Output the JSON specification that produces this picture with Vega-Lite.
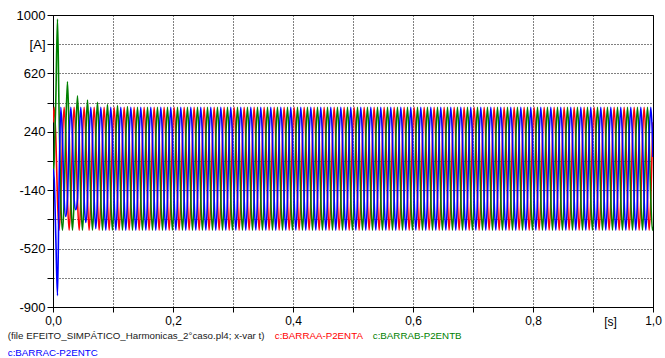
{
"$schema":"https://vega.github.io/schema/vega-lite/v6.json",
"width":600,"height":292,
"autosize":{"type":"none"},
"padding":{"left":53,"top":15,"right":12,"bottom":51},
"background":"white",
"config":{"view":{"stroke":"#000","strokeWidth":1},"font":"Liberation Sans"},
"data":{"values":[
{"t":0,"A":300,"B":-70,"C":0},
{"t":0.0019,"A":400,"B":50,"C":-60},
{"t":0.0047,"A":200,"B":450,"C":-450},
{"t":0.0075,"A":-200,"B":974,"C":-826},
{"t":0.0102,"A":-400,"B":350,"C":-100},
{"t":0.0130,"A":-200,"B":-200,"C":400},
{"t":0.0158,"A":200,"B":-400,"C":200},
{"t":0.0186,"A":400,"B":-200,"C":-200},
{"t":0.0213,"A":200,"B":250,"C":-311},
{"t":0.0241,"A":-200,"B":566,"C":-200},
{"t":0.0269,"A":-400,"B":230,"C":200},
{"t":0.0297,"A":-200,"B":-200,"C":400},
{"t":0.0325,"A":200,"B":-400,"C":200},
{"t":0.0352,"A":400,"B":-200,"C":-200},
{"t":0.0380,"A":200,"B":220,"C":-267},
{"t":0.0408,"A":-200,"B":474,"C":-200},
{"t":0.0436,"A":-400,"B":210,"C":200},
{"t":0.0463,"A":-200,"B":-200,"C":400},
{"t":0.0491,"A":200,"B":-400,"C":200},
{"t":0.0519,"A":400,"B":-200,"C":-200},
{"t":0.0547,"A":200,"B":210,"C":-350},
{"t":0.0575,"A":-200,"B":447,"C":-200},
{"t":0.0602,"A":-400,"B":200,"C":200},
{"t":0.0630,"A":-200,"B":-200,"C":400},
{"t":0.0658,"A":200,"B":-400,"C":200},
{"t":0.0686,"A":400,"B":-200,"C":-200},
{"t":0.0713,"A":200,"B":200,"C":-390},
{"t":0.0741,"A":-200,"B":432,"C":-200},
{"t":0.0769,"A":-400,"B":200,"C":200},
{"t":0.0797,"A":-200,"B":-200,"C":400},
{"t":0.0825,"A":200,"B":-400,"C":200},
{"t":0.0852,"A":400,"B":-200,"C":-200},
{"t":0.0880,"A":200,"B":200,"C":-400},
{"t":0.0908,"A":-200,"B":417,"C":-200},
{"t":0.0936,"A":-400,"B":200,"C":200},
{"t":0.0963,"A":-200,"B":-200,"C":400},
{"t":0.0991,"A":200,"B":-400,"C":200},
{"t":0.1019,"A":400,"B":-200,"C":-200},
{"t":0.1047,"A":200,"B":200,"C":-400},
{"t":0.1075,"A":-200,"B":410,"C":-200},
{"t":0.1102,"A":-400,"B":200,"C":200},
{"t":0.1130,"A":-200,"B":-200,"C":400},
{"t":0.1158,"A":200,"B":-400,"C":200},
{"t":0.1186,"A":400,"B":-200,"C":-200},
{"t":0.1213,"A":200,"B":200,"C":-400},
{"t":0.1241,"A":-200,"B":405,"C":-200},
{"t":0.1269,"A":-400,"B":200,"C":200},
{"t":0.1297,"A":-200,"B":-200,"C":400},
{"t":0.1325,"A":200,"B":-400,"C":200},
{"t":0.1352,"A":400,"B":-200,"C":-200},
{"t":0.1380,"A":200,"B":200,"C":-400},
{"t":0.1408,"A":-200,"B":400,"C":-200},
{"t":0.1436,"A":-400,"B":200,"C":200},
{"t":0.1463,"A":-200,"B":-200,"C":400},
{"t":0.1491,"A":200,"B":-400,"C":200},
{"t":0.1519,"A":400,"B":-200,"C":-200},
{"t":0.1547,"A":200,"B":200,"C":-400},
{"t":0.1575,"A":-200,"B":400,"C":-200},
{"t":0.1602,"A":-400,"B":200,"C":200},
{"t":0.1630,"A":-200,"B":-200,"C":400},
{"t":0.1658,"A":200,"B":-400,"C":200},
{"t":0.1686,"A":400,"B":-200,"C":-200},
{"t":0.1713,"A":200,"B":200,"C":-400},
{"t":0.1741,"A":-200,"B":400,"C":-200},
{"t":0.1769,"A":-400,"B":200,"C":200},
{"t":0.1797,"A":-200,"B":-200,"C":400},
{"t":0.1825,"A":200,"B":-400,"C":200},
{"t":0.1852,"A":400,"B":-200,"C":-200},
{"t":0.1880,"A":200,"B":200,"C":-400},
{"t":0.1908,"A":-200,"B":400,"C":-200},
{"t":0.1936,"A":-400,"B":200,"C":200},
{"t":0.1963,"A":-200,"B":-200,"C":400},
{"t":0.1991,"A":200,"B":-400,"C":200},
{"t":0.2019,"A":400,"B":-200,"C":-200},
{"t":0.2047,"A":200,"B":200,"C":-400},
{"t":0.2075,"A":-200,"B":400,"C":-200},
{"t":0.2102,"A":-400,"B":200,"C":200},
{"t":0.2130,"A":-200,"B":-200,"C":400},
{"t":0.2158,"A":200,"B":-400,"C":200},
{"t":0.2186,"A":400,"B":-200,"C":-200},
{"t":0.2213,"A":200,"B":200,"C":-400},
{"t":0.2241,"A":-200,"B":400,"C":-200},
{"t":0.2269,"A":-400,"B":200,"C":200},
{"t":0.2297,"A":-200,"B":-200,"C":400},
{"t":0.2325,"A":200,"B":-400,"C":200},
{"t":0.2352,"A":400,"B":-200,"C":-200},
{"t":0.2380,"A":200,"B":200,"C":-400},
{"t":0.2408,"A":-200,"B":400,"C":-200},
{"t":0.2436,"A":-400,"B":200,"C":200},
{"t":0.2463,"A":-200,"B":-200,"C":400},
{"t":0.2491,"A":200,"B":-400,"C":200},
{"t":0.2519,"A":400,"B":-200,"C":-200},
{"t":0.2547,"A":200,"B":200,"C":-400},
{"t":0.2575,"A":-200,"B":400,"C":-200},
{"t":0.2602,"A":-400,"B":200,"C":200},
{"t":0.2630,"A":-200,"B":-200,"C":400},
{"t":0.2658,"A":200,"B":-400,"C":200},
{"t":0.2686,"A":400,"B":-200,"C":-200},
{"t":0.2713,"A":200,"B":200,"C":-400},
{"t":0.2741,"A":-200,"B":400,"C":-200},
{"t":0.2769,"A":-400,"B":200,"C":200},
{"t":0.2797,"A":-200,"B":-200,"C":400},
{"t":0.2825,"A":200,"B":-400,"C":200},
{"t":0.2852,"A":400,"B":-200,"C":-200},
{"t":0.2880,"A":200,"B":200,"C":-400},
{"t":0.2908,"A":-200,"B":400,"C":-200},
{"t":0.2936,"A":-400,"B":200,"C":200},
{"t":0.2963,"A":-200,"B":-200,"C":400},
{"t":0.2991,"A":200,"B":-400,"C":200},
{"t":0.3019,"A":400,"B":-200,"C":-200},
{"t":0.3047,"A":200,"B":200,"C":-400},
{"t":0.3075,"A":-200,"B":400,"C":-200},
{"t":0.3102,"A":-400,"B":200,"C":200},
{"t":0.3130,"A":-200,"B":-200,"C":400},
{"t":0.3158,"A":200,"B":-400,"C":200},
{"t":0.3186,"A":400,"B":-200,"C":-200},
{"t":0.3213,"A":200,"B":200,"C":-400},
{"t":0.3241,"A":-200,"B":400,"C":-200},
{"t":0.3269,"A":-400,"B":200,"C":200},
{"t":0.3297,"A":-200,"B":-200,"C":400},
{"t":0.3325,"A":200,"B":-400,"C":200},
{"t":0.3352,"A":400,"B":-200,"C":-200},
{"t":0.3380,"A":200,"B":200,"C":-400},
{"t":0.3408,"A":-200,"B":400,"C":-200},
{"t":0.3436,"A":-400,"B":200,"C":200},
{"t":0.3463,"A":-200,"B":-200,"C":400},
{"t":0.3491,"A":200,"B":-400,"C":200},
{"t":0.3519,"A":400,"B":-200,"C":-200},
{"t":0.3547,"A":200,"B":200,"C":-400},
{"t":0.3575,"A":-200,"B":400,"C":-200},
{"t":0.3602,"A":-400,"B":200,"C":200},
{"t":0.3630,"A":-200,"B":-200,"C":400},
{"t":0.3658,"A":200,"B":-400,"C":200},
{"t":0.3686,"A":400,"B":-200,"C":-200},
{"t":0.3713,"A":200,"B":200,"C":-400},
{"t":0.3741,"A":-200,"B":400,"C":-200},
{"t":0.3769,"A":-400,"B":200,"C":200},
{"t":0.3797,"A":-200,"B":-200,"C":400},
{"t":0.3825,"A":200,"B":-400,"C":200},
{"t":0.3852,"A":400,"B":-200,"C":-200},
{"t":0.3880,"A":200,"B":200,"C":-400},
{"t":0.3908,"A":-200,"B":400,"C":-200},
{"t":0.3936,"A":-400,"B":200,"C":200},
{"t":0.3963,"A":-200,"B":-200,"C":400},
{"t":0.3991,"A":200,"B":-400,"C":200},
{"t":0.4019,"A":400,"B":-200,"C":-200},
{"t":0.4047,"A":200,"B":200,"C":-400},
{"t":0.4075,"A":-200,"B":400,"C":-200},
{"t":0.4102,"A":-400,"B":200,"C":200},
{"t":0.4130,"A":-200,"B":-200,"C":400},
{"t":0.4158,"A":200,"B":-400,"C":200},
{"t":0.4186,"A":400,"B":-200,"C":-200},
{"t":0.4213,"A":200,"B":200,"C":-400},
{"t":0.4241,"A":-200,"B":400,"C":-200},
{"t":0.4269,"A":-400,"B":200,"C":200},
{"t":0.4297,"A":-200,"B":-200,"C":400},
{"t":0.4325,"A":200,"B":-400,"C":200},
{"t":0.4352,"A":400,"B":-200,"C":-200},
{"t":0.4380,"A":200,"B":200,"C":-400},
{"t":0.4408,"A":-200,"B":400,"C":-200},
{"t":0.4436,"A":-400,"B":200,"C":200},
{"t":0.4463,"A":-200,"B":-200,"C":400},
{"t":0.4491,"A":200,"B":-400,"C":200},
{"t":0.4519,"A":400,"B":-200,"C":-200},
{"t":0.4547,"A":200,"B":200,"C":-400},
{"t":0.4575,"A":-200,"B":400,"C":-200},
{"t":0.4602,"A":-400,"B":200,"C":200},
{"t":0.4630,"A":-200,"B":-200,"C":400},
{"t":0.4658,"A":200,"B":-400,"C":200},
{"t":0.4686,"A":400,"B":-200,"C":-200},
{"t":0.4713,"A":200,"B":200,"C":-400},
{"t":0.4741,"A":-200,"B":400,"C":-200},
{"t":0.4769,"A":-400,"B":200,"C":200},
{"t":0.4797,"A":-200,"B":-200,"C":400},
{"t":0.4825,"A":200,"B":-400,"C":200},
{"t":0.4852,"A":400,"B":-200,"C":-200},
{"t":0.4880,"A":200,"B":200,"C":-400},
{"t":0.4908,"A":-200,"B":400,"C":-200},
{"t":0.4936,"A":-400,"B":200,"C":200},
{"t":0.4963,"A":-200,"B":-200,"C":400},
{"t":0.4991,"A":200,"B":-400,"C":200},
{"t":0.5019,"A":400,"B":-200,"C":-200},
{"t":0.5047,"A":200,"B":200,"C":-400},
{"t":0.5075,"A":-200,"B":400,"C":-200},
{"t":0.5102,"A":-400,"B":200,"C":200},
{"t":0.5130,"A":-200,"B":-200,"C":400},
{"t":0.5158,"A":200,"B":-400,"C":200},
{"t":0.5186,"A":400,"B":-200,"C":-200},
{"t":0.5213,"A":200,"B":200,"C":-400},
{"t":0.5241,"A":-200,"B":400,"C":-200},
{"t":0.5269,"A":-400,"B":200,"C":200},
{"t":0.5297,"A":-200,"B":-200,"C":400},
{"t":0.5325,"A":200,"B":-400,"C":200},
{"t":0.5352,"A":400,"B":-200,"C":-200},
{"t":0.5380,"A":200,"B":200,"C":-400},
{"t":0.5408,"A":-200,"B":400,"C":-200},
{"t":0.5436,"A":-400,"B":200,"C":200},
{"t":0.5463,"A":-200,"B":-200,"C":400},
{"t":0.5491,"A":200,"B":-400,"C":200},
{"t":0.5519,"A":400,"B":-200,"C":-200},
{"t":0.5547,"A":200,"B":200,"C":-400},
{"t":0.5575,"A":-200,"B":400,"C":-200},
{"t":0.5602,"A":-400,"B":200,"C":200},
{"t":0.5630,"A":-200,"B":-200,"C":400},
{"t":0.5658,"A":200,"B":-400,"C":200},
{"t":0.5686,"A":400,"B":-200,"C":-200},
{"t":0.5713,"A":200,"B":200,"C":-400},
{"t":0.5741,"A":-200,"B":400,"C":-200},
{"t":0.5769,"A":-400,"B":200,"C":200},
{"t":0.5797,"A":-200,"B":-200,"C":400},
{"t":0.5825,"A":200,"B":-400,"C":200},
{"t":0.5852,"A":400,"B":-200,"C":-200},
{"t":0.5880,"A":200,"B":200,"C":-400},
{"t":0.5908,"A":-200,"B":400,"C":-200},
{"t":0.5936,"A":-400,"B":200,"C":200},
{"t":0.5963,"A":-200,"B":-200,"C":400},
{"t":0.5991,"A":200,"B":-400,"C":200},
{"t":0.6019,"A":400,"B":-200,"C":-200},
{"t":0.6047,"A":200,"B":200,"C":-400},
{"t":0.6075,"A":-200,"B":400,"C":-200},
{"t":0.6102,"A":-400,"B":200,"C":200},
{"t":0.6130,"A":-200,"B":-200,"C":400},
{"t":0.6158,"A":200,"B":-400,"C":200},
{"t":0.6186,"A":400,"B":-200,"C":-200},
{"t":0.6213,"A":200,"B":200,"C":-400},
{"t":0.6241,"A":-200,"B":400,"C":-200},
{"t":0.6269,"A":-400,"B":200,"C":200},
{"t":0.6297,"A":-200,"B":-200,"C":400},
{"t":0.6325,"A":200,"B":-400,"C":200},
{"t":0.6352,"A":400,"B":-200,"C":-200},
{"t":0.6380,"A":200,"B":200,"C":-400},
{"t":0.6408,"A":-200,"B":400,"C":-200},
{"t":0.6436,"A":-400,"B":200,"C":200},
{"t":0.6463,"A":-200,"B":-200,"C":400},
{"t":0.6491,"A":200,"B":-400,"C":200},
{"t":0.6519,"A":400,"B":-200,"C":-200},
{"t":0.6547,"A":200,"B":200,"C":-400},
{"t":0.6575,"A":-200,"B":400,"C":-200},
{"t":0.6602,"A":-400,"B":200,"C":200},
{"t":0.6630,"A":-200,"B":-200,"C":400},
{"t":0.6658,"A":200,"B":-400,"C":200},
{"t":0.6686,"A":400,"B":-200,"C":-200},
{"t":0.6713,"A":200,"B":200,"C":-400},
{"t":0.6741,"A":-200,"B":400,"C":-200},
{"t":0.6769,"A":-400,"B":200,"C":200},
{"t":0.6797,"A":-200,"B":-200,"C":400},
{"t":0.6825,"A":200,"B":-400,"C":200},
{"t":0.6852,"A":400,"B":-200,"C":-200},
{"t":0.6880,"A":200,"B":200,"C":-400},
{"t":0.6908,"A":-200,"B":400,"C":-200},
{"t":0.6936,"A":-400,"B":200,"C":200},
{"t":0.6963,"A":-200,"B":-200,"C":400},
{"t":0.6991,"A":200,"B":-400,"C":200},
{"t":0.7019,"A":400,"B":-200,"C":-200},
{"t":0.7047,"A":200,"B":200,"C":-400},
{"t":0.7075,"A":-200,"B":400,"C":-200},
{"t":0.7102,"A":-400,"B":200,"C":200},
{"t":0.7130,"A":-200,"B":-200,"C":400},
{"t":0.7158,"A":200,"B":-400,"C":200},
{"t":0.7186,"A":400,"B":-200,"C":-200},
{"t":0.7213,"A":200,"B":200,"C":-400},
{"t":0.7241,"A":-200,"B":400,"C":-200},
{"t":0.7269,"A":-400,"B":200,"C":200},
{"t":0.7297,"A":-200,"B":-200,"C":400},
{"t":0.7325,"A":200,"B":-400,"C":200},
{"t":0.7352,"A":400,"B":-200,"C":-200},
{"t":0.7380,"A":200,"B":200,"C":-400},
{"t":0.7408,"A":-200,"B":400,"C":-200},
{"t":0.7436,"A":-400,"B":200,"C":200},
{"t":0.7463,"A":-200,"B":-200,"C":400},
{"t":0.7491,"A":200,"B":-400,"C":200},
{"t":0.7519,"A":400,"B":-200,"C":-200},
{"t":0.7547,"A":200,"B":200,"C":-400},
{"t":0.7575,"A":-200,"B":400,"C":-200},
{"t":0.7602,"A":-400,"B":200,"C":200},
{"t":0.7630,"A":-200,"B":-200,"C":400},
{"t":0.7658,"A":200,"B":-400,"C":200},
{"t":0.7686,"A":400,"B":-200,"C":-200},
{"t":0.7713,"A":200,"B":200,"C":-400},
{"t":0.7741,"A":-200,"B":400,"C":-200},
{"t":0.7769,"A":-400,"B":200,"C":200},
{"t":0.7797,"A":-200,"B":-200,"C":400},
{"t":0.7825,"A":200,"B":-400,"C":200},
{"t":0.7852,"A":400,"B":-200,"C":-200},
{"t":0.7880,"A":200,"B":200,"C":-400},
{"t":0.7908,"A":-200,"B":400,"C":-200},
{"t":0.7936,"A":-400,"B":200,"C":200},
{"t":0.7963,"A":-200,"B":-200,"C":400},
{"t":0.7991,"A":200,"B":-400,"C":200},
{"t":0.8019,"A":400,"B":-200,"C":-200},
{"t":0.8047,"A":200,"B":200,"C":-400},
{"t":0.8075,"A":-200,"B":400,"C":-200},
{"t":0.8102,"A":-400,"B":200,"C":200},
{"t":0.8130,"A":-200,"B":-200,"C":400},
{"t":0.8158,"A":200,"B":-400,"C":200},
{"t":0.8186,"A":400,"B":-200,"C":-200},
{"t":0.8213,"A":200,"B":200,"C":-400},
{"t":0.8241,"A":-200,"B":400,"C":-200},
{"t":0.8269,"A":-400,"B":200,"C":200},
{"t":0.8297,"A":-200,"B":-200,"C":400},
{"t":0.8325,"A":200,"B":-400,"C":200},
{"t":0.8352,"A":400,"B":-200,"C":-200},
{"t":0.8380,"A":200,"B":200,"C":-400},
{"t":0.8408,"A":-200,"B":400,"C":-200},
{"t":0.8436,"A":-400,"B":200,"C":200},
{"t":0.8463,"A":-200,"B":-200,"C":400},
{"t":0.8491,"A":200,"B":-400,"C":200},
{"t":0.8519,"A":400,"B":-200,"C":-200},
{"t":0.8547,"A":200,"B":200,"C":-400},
{"t":0.8575,"A":-200,"B":400,"C":-200},
{"t":0.8602,"A":-400,"B":200,"C":200},
{"t":0.8630,"A":-200,"B":-200,"C":400},
{"t":0.8658,"A":200,"B":-400,"C":200},
{"t":0.8686,"A":400,"B":-200,"C":-200},
{"t":0.8713,"A":200,"B":200,"C":-400},
{"t":0.8741,"A":-200,"B":400,"C":-200},
{"t":0.8769,"A":-400,"B":200,"C":200},
{"t":0.8797,"A":-200,"B":-200,"C":400},
{"t":0.8825,"A":200,"B":-400,"C":200},
{"t":0.8852,"A":400,"B":-200,"C":-200},
{"t":0.8880,"A":200,"B":200,"C":-400},
{"t":0.8908,"A":-200,"B":400,"C":-200},
{"t":0.8936,"A":-400,"B":200,"C":200},
{"t":0.8963,"A":-200,"B":-200,"C":400},
{"t":0.8991,"A":200,"B":-400,"C":200},
{"t":0.9019,"A":400,"B":-200,"C":-200},
{"t":0.9047,"A":200,"B":200,"C":-400},
{"t":0.9075,"A":-200,"B":400,"C":-200},
{"t":0.9102,"A":-400,"B":200,"C":200},
{"t":0.9130,"A":-200,"B":-200,"C":400},
{"t":0.9158,"A":200,"B":-400,"C":200},
{"t":0.9186,"A":400,"B":-200,"C":-200},
{"t":0.9213,"A":200,"B":200,"C":-400},
{"t":0.9241,"A":-200,"B":400,"C":-200},
{"t":0.9269,"A":-400,"B":200,"C":200},
{"t":0.9297,"A":-200,"B":-200,"C":400},
{"t":0.9325,"A":200,"B":-400,"C":200},
{"t":0.9352,"A":400,"B":-200,"C":-200},
{"t":0.9380,"A":200,"B":200,"C":-400},
{"t":0.9408,"A":-200,"B":400,"C":-200},
{"t":0.9436,"A":-400,"B":200,"C":200},
{"t":0.9463,"A":-200,"B":-200,"C":400},
{"t":0.9491,"A":200,"B":-400,"C":200},
{"t":0.9519,"A":400,"B":-200,"C":-200},
{"t":0.9547,"A":200,"B":200,"C":-400},
{"t":0.9575,"A":-200,"B":400,"C":-200},
{"t":0.9602,"A":-400,"B":200,"C":200},
{"t":0.9630,"A":-200,"B":-200,"C":400},
{"t":0.9658,"A":200,"B":-400,"C":200},
{"t":0.9686,"A":400,"B":-200,"C":-200},
{"t":0.9713,"A":200,"B":200,"C":-400},
{"t":0.9741,"A":-200,"B":400,"C":-200},
{"t":0.9769,"A":-400,"B":200,"C":200},
{"t":0.9797,"A":-200,"B":-200,"C":400},
{"t":0.9825,"A":200,"B":-400,"C":200},
{"t":0.9852,"A":400,"B":-200,"C":-200},
{"t":0.9880,"A":200,"B":200,"C":-400},
{"t":0.9908,"A":-200,"B":400,"C":-200},
{"t":0.9936,"A":-400,"B":200,"C":200},
{"t":0.9963,"A":-200,"B":-200,"C":400},
{"t":0.9991,"A":200,"B":-400,"C":200},
{"t":1.0,"A":302,"B":-378,"C":76}
]},
"transform":[{"fold":["A","B","C"],"as":["s","v"]}],
"mark":{"type":"line","strokeWidth":1.6,"interpolate":"monotone","clip":true},
"encoding":{
"x":{"field":"t","type":"quantitative","scale":{"domain":[0,1],"nice":false,"zero":false},
"axis":{"values":[0,0.1,0.2,0.3,0.4,0.5,0.6,0.7,0.8,0.9,1.0],
"labelExpr":"round(datum.value*10)%2==1 ? '' : replace(format(datum.value,'.1f'),'.',',')",
"labelFontSize":12,"labelColor":"#000","labelPadding":3,"labelFlush":false,"labelOverlap":false,"labelBound":false,
"tickSize":5,"tickColor":"#000","domainColor":"#000",
"grid":true,"gridColor":"#000","gridOpacity":1,"gridDash":[1,2],"gridWidth":1,
"title":"[s]","titleX":557,"titleY":9,"titleBaseline":"top","titleAlign":"center","titleAnchor":null,"titleFontSize":12,"titleFontWeight":"normal","titleColor":"#000","titlePadding":0}},
"y":{"field":"v","type":"quantitative","scale":{"domain":[-900,1000],"nice":false,"zero":false},
"axis":{"values":[-900,-710,-520,-330,-140,50,240,430,620,810,1000],
"labelExpr":"datum.value==810 ? '[A]' : (abs(1000-datum.value)%380==0 ? ''+datum.value : '')",
"labelFontSize":13,"labelColor":"#000","labelPadding":2,"labelOverlap":false,"labelBound":false,"labelFlush":false,
"tickSize":6,"tickColor":"#000","domainColor":"#000",
"grid":true,"gridColor":"#000","gridOpacity":1,"gridDash":[1,2],"gridWidth":1,
"title":null}},
"color":{"field":"s","type":"nominal",
"scale":{"domain":["F","A","B","C"],"range":["#1a1a1a","#ff0000","#008000","#0000ff"]},
"legend":{"orient":"none","legendX":-55,"legendY":316,"title":null,"direction":"horizontal","columns":3,
"symbolSize":0,"symbolStrokeWidth":0,"symbolOpacity":0,"labelOffset":0,"labelFontSize":9.75,"columnPadding":-3,"rowPadding":6,"labelLimit":400,"gridAlign":"each","padding":0,
"labelExpr":"datum.value=='F' ? '(file EFEITO_SIMPÁTICO_Harmonicas_2°caso.pl4; x-var t)' : (datum.value=='A' ? 'c:BARRAA-P2ENTA' : (datum.value=='B' ? 'c:BARRAB-P2ENTB' : 'c:BARRAC-P2ENTC'))",
"encode":{"labels":{"update":{"fill":{"scale":"color","field":"value"}}}}}}
}
}
